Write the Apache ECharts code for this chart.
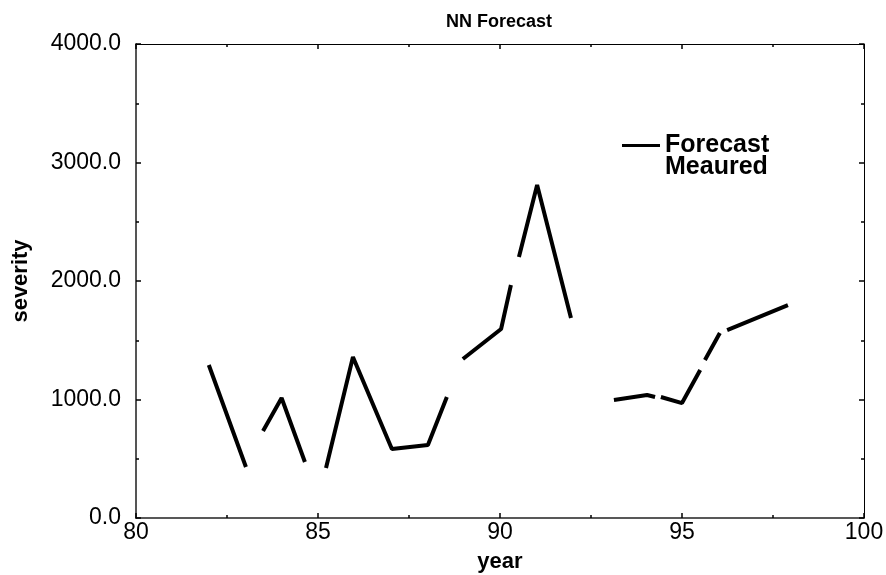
<!DOCTYPE html>
<html>
<head>
<meta charset="utf-8">
<script src="https://cdn.jsdelivr.net/npm/echarts@6/dist/echarts.min.js"></script>
<style>
  html, body { margin: 0; padding: 0; background: #fff; }
  #chart { width: 886px; height: 575px; }
</style>
</head>
<body>
<div id="chart"></div>
<script>
// Forecast line (the original is drawn broken)
var segYears = [
  [82, 83.02],
  [83.49, 84, 84.64],
  [85.22, 85.96, 87.03, 88.02, 88.54],
  [88.98, 90.03, 90.3],
  [90.52, 91.02, 91.95],
  [93.13, 94.04, 94.26],
  [94.42, 95, 95.5],
  [95.63, 96.04],
  [96.24, 97.91]
];
var segValues = [
  [1291, 430],
  [734, 1013, 473],
  [422, 1359, 582, 616, 1021],
  [1342, 1595, 1966],
  [2203, 2810, 1688],
  [996, 1038, 1021],
  [1021, 970, 1249],
  [1333, 1561],
  [1586, 1797]
];
var measured = [];
var seriesNames = ['Forecast', 'Meaured'];

var forecastData = [];
segYears.forEach(function (ys, i) {
  if (i > 0) forecastData.push([null, null]);
  ys.forEach(function (x, j) { forecastData.push([x, segValues[i][j]]); });
});

var chart = echarts.init(document.getElementById('chart'));
var font = '"Liberation Sans", Arial, sans-serif';

var axisBase = {
  axisLine: { show: true, onZero: false, lineStyle: { color: '#000', width: 1 } },
  axisTick: { show: true, inside: true, length: 5, lineStyle: { color: '#000', width: 1.5 } },
  minorTick: { show: true, splitNumber: 2, length: 3, lineStyle: { color: '#000', width: 1.5 } },
  splitLine: { show: false },
  minorSplitLine: { show: false }
};

var option = {
  animation: false,
  backgroundColor: '#fff',
  title: {
    text: 'NN Forecast',
    left: 441, top: 8,
    textStyle: { fontFamily: font, fontSize: 18, fontWeight: 'bold', color: '#000' }
  },
  legend: {
    orient: 'vertical',
    left: 622, top: 133, padding: 0,
    itemWidth: 38, itemHeight: 3, itemGap: -3,
    textStyle: { fontFamily: font, fontSize: 25, lineHeight: 21, fontWeight: 'bold', color: '#000' },
    data: [
      { name: seriesNames[0], icon: 'rect', itemStyle: { color: '#000' } },
      { name: seriesNames[1], icon: 'rect', itemStyle: { color: '#000', opacity: 0 } }
    ]
  },
  grid: { left: 136, right: 22, top: 44, bottom: 57, outerBoundsMode: 'none', containLabel: false },
  xAxis: [
    Object.assign({}, axisBase, {
      type: 'value', position: 'bottom', min: 80, max: 100, interval: 5,
      name: 'year', nameLocation: 'middle', nameGap: 33,
      nameTextStyle: { fontFamily: font, fontSize: 22, fontWeight: 'bold', color: '#000' },
      axisLine: { show: true, onZero: false, lineStyle: { color: '#222', width: 1.5 } },
      axisLabel: { fontFamily: font, fontSize: 23, color: '#000', margin: 3 }
    }),
    Object.assign({}, axisBase, {
      type: 'value', position: 'top', min: 80, max: 100, interval: 5,
      axisLabel: { show: false }
    })
  ],
  yAxis: [
    Object.assign({}, axisBase, {
      type: 'value', position: 'left', min: 0, max: 4000, interval: 1000,
      name: 'severity', nameLocation: 'middle', nameGap: 104, nameRotate: 90,
      nameTextStyle: { fontFamily: font, fontSize: 22, fontWeight: 'bold', color: '#000' },
      axisLine: { show: true, onZero: false, lineStyle: { color: '#555', width: 2 } },
      axisLabel: {
        fontFamily: font, fontSize: 23, color: '#000', margin: 15,
        formatter: function (v) { return v.toFixed(1); }
      }
    }),
    Object.assign({}, axisBase, {
      type: 'value', position: 'right', min: 0, max: 4000, interval: 1000,
      axisLabel: { show: false }
    })
  ],
  series: [
    {
      name: seriesNames[0], type: 'line', data: forecastData,
      showSymbol: false, symbol: 'none', connectNulls: false,
      lineStyle: { color: '#000', width: 4 }, itemStyle: { color: '#000' }
    },
    {
      name: seriesNames[1], type: 'line', data: measured,
      showSymbol: false, symbol: 'none',
      lineStyle: { color: '#000', width: 4, opacity: 0 }, itemStyle: { color: '#000', opacity: 0 }
    }
  ]
};
chart.setOption(option);
</script>
</body>
</html>
